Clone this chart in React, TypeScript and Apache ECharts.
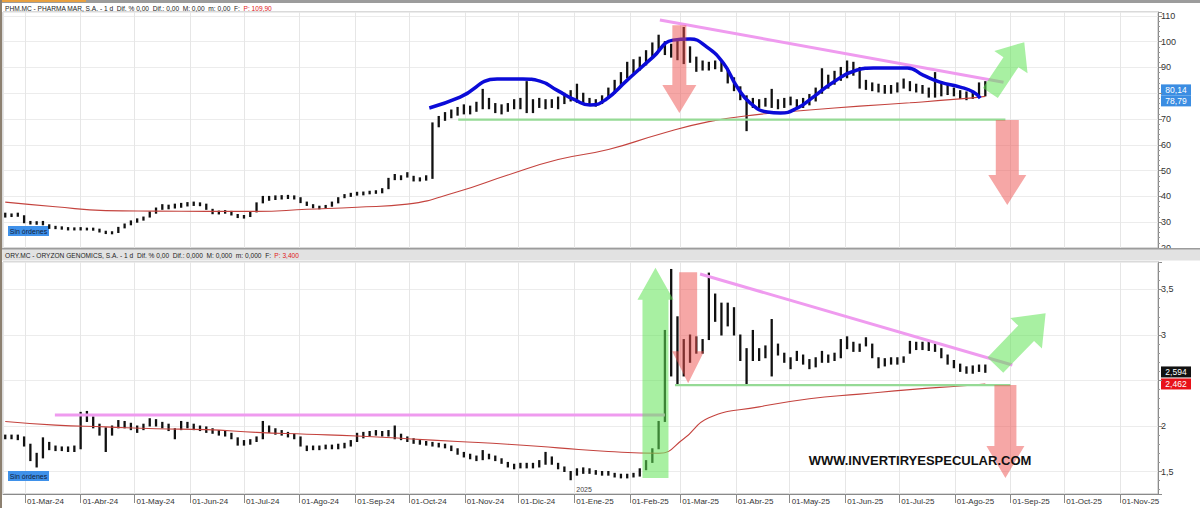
import React, { useEffect, useRef } from "react";
import * as echarts from "echarts";

const DAY = 86400000;
const BAR_START = Date.UTC(2024, 1, 19);
const BAR_STEP_DAYS = 3.5;
const X_MIN = Date.UTC(2024, 1, 17, 18);
const X_MAX = Date.UTC(2025, 10, 22, 5);
const MONTHS_ES = ["Ene", "Feb", "Mar", "Abr", "May", "Jun", "Jul", "Ago", "Sep", "Oct", "Nov", "Dic"];

// PHARMA MAR half-weekly ranges
const phmLow = [
  32.0, 32.2, 32.3, 29.8, 29.3, 29.2, 29.0, 27.6, 27.5, 27.3,
  27.0, 27.0, 27.0, 27.0, 26.9, 26.2, 25.6, 25.5, 26.0, 27.8,
  29.0, 30.0, 30.8, 32.0, 33.5, 35.0, 35.2, 35.5, 35.8, 36.3,
  36.5, 36.4, 35.0, 33.3, 33.2, 33.5, 32.8, 31.8, 31.6, 32.2,
  34.0, 37.5, 38.5, 38.8, 39.0, 39.2, 39.0, 37.6, 36.5, 35.6,
  35.2, 35.5, 36.2, 37.5, 39.5, 40.0, 40.5, 40.6, 41.0, 41.2,
  41.4, 43.0, 46.5, 46.5, 47.5, 46.0, 46.0, 46.3, 47.0, 67.0,
  69.5, 70.5, 71.5, 72.0, 72.0, 73.0, 74.0, 74.0, 72.5, 72.0,
  73.0, 74.0, 74.0, 72.5, 72.5, 74.5, 74.0, 74.5, 74.0, 76.0,
  77.0, 76.5, 76.0, 75.5, 75.0, 76.0, 78.0, 80.0, 83.0, 86.0,
  88.0, 89.0, 91.0, 94.0, 97.0, 95.0, 94.0, 93.0, 91.5, 92.0,
  88.5, 89.0, 89.0, 89.5, 88.5, 84.0, 81.0, 77.5, 65.5, 74.5,
  74.5, 75.0, 74.5, 74.0, 74.5, 75.5, 74.0, 74.5, 75.5, 77.0,
  80.0, 82.0, 83.5, 85.0, 86.0, 87.0, 82.0, 81.5, 81.0, 80.5,
  80.0, 80.0, 80.5, 82.0, 81.0, 80.5, 80.0, 78.5, 78.5, 79.0,
  79.5, 79.0, 78.0, 77.5, 78.0, 78.5, 79.0,
];
const phmHigh = [
  33.5, 33.2, 33.5, 32.5, 30.3, 30.2, 30.3, 29.0, 28.4, 28.2,
  27.9, 27.8, 27.9, 27.7, 27.7, 27.3, 26.5, 26.3, 28.0, 29.3,
  30.5, 31.3, 32.0, 34.0, 35.5, 36.8, 36.6, 37.0, 37.3, 37.6,
  37.8, 37.5, 37.0, 35.0, 34.3, 34.5, 34.2, 33.0, 32.6, 33.8,
  37.5, 40.0, 40.0, 40.2, 40.3, 40.4, 40.2, 39.5, 37.8, 36.8,
  36.2, 36.5, 37.8, 39.5, 40.7, 41.2, 41.6, 41.7, 42.0, 42.2,
  43.0, 47.0, 48.5, 48.0, 49.2, 47.8, 47.2, 48.0, 68.5, 71.0,
  72.5, 73.5, 74.5, 75.5, 75.0, 76.5, 81.5, 78.0, 76.0, 75.5,
  76.0, 77.5, 78.0, 84.5, 77.5, 78.0, 77.5, 77.5, 78.5, 80.0,
  81.0, 83.5, 80.0, 78.0, 77.5, 79.0, 82.0, 85.0, 88.0, 92.0,
  93.0, 94.0, 96.5, 99.5, 102.5, 100.0, 99.0, 100.5, 105.5, 98.0,
  94.0, 92.5, 92.0, 92.5, 92.0, 89.0, 86.0, 82.5, 79.0, 78.0,
  77.5, 78.0, 81.5, 77.5, 78.0, 78.5, 77.5, 78.0, 79.5, 82.0,
  89.5, 87.0, 88.5, 90.0, 92.5, 92.0, 90.0, 85.0, 84.0, 83.5,
  83.0, 83.0, 84.0, 85.5, 84.5, 83.5, 83.0, 82.0, 88.0, 84.5,
  83.0, 82.0, 81.0, 80.5, 80.5, 84.0, 84.5,
];
const phmMaIdx = [0, 8, 16, 24, 32, 40, 48, 56, 64, 72, 80, 88, 96, 104, 112, 120, 128, 136, 144, 152, 156];
const phmMa = [37.8, 36.0, 34.5, 34.3, 34.2, 34.2, 35.0, 35.8, 37.0, 41.8, 48.3, 54.3, 58.2, 64.0, 69.0, 71.8, 73.5, 75.0, 76.3, 77.8, 78.8];
const phmBlueIdx = [67.5, 72.4, 78.3, 82.4, 85.1, 87.8, 90.7, 93.1, 95.5, 99.0, 103.1, 106.3, 109.0, 111.7, 114.3, 116.5, 118.6, 121.3, 123.4, 126.1, 128.6, 131.8, 135.6, 138.2, 143.6, 146.1, 148.8, 152.0, 154.1, 155.2];
const phmBlue = [74.3, 78.5, 85.5, 85.5, 84.7, 81.2, 77.4, 75.4, 77.4, 85.1, 94.0, 100.6, 101.0, 97.9, 91.7, 82.4, 76.2, 72.7, 72.3, 74.3, 78.5, 84.3, 89.0, 89.8, 89.8, 87.0, 84.3, 82.4, 80.5, 78.1];
const phmPinkIdx = [104.2, 158.9];
const phmPink = [108.4, 84.3];
const phmSupportIdx = [72.1, 159.2];
const phmSupport = [69.8, 69.8];
const phmLast = 80.14;
const phmMaLast = 78.79;

// ORYZON half-weekly ranges
const oryLow = [
  1.86, 1.86, 1.85, 1.78, 1.62, 1.55, 1.65, 1.74, 1.73, 1.73,
  1.72, 1.72, 1.75, 2.05, 1.98, 1.90, 1.72, 1.90, 1.98, 1.98,
  1.96, 1.93, 1.96, 2.00, 2.00, 1.98, 1.95, 1.86, 1.96, 1.98,
  1.96, 1.95, 1.93, 1.92, 1.90, 1.89, 1.86, 1.79, 1.79, 1.80,
  1.83, 1.86, 1.93, 1.91, 1.90, 1.88, 1.86, 1.78, 1.73, 1.74,
  1.74, 1.75, 1.75, 1.75, 1.76, 1.78, 1.83, 1.87, 1.89, 1.90,
  1.89, 1.89, 1.86, 1.85, 1.83, 1.81, 1.80, 1.79, 1.78, 1.77,
  1.76, 1.73, 1.69, 1.66, 1.64, 1.62, 1.63, 1.64, 1.62, 1.59,
  1.55, 1.53, 1.54, 1.54, 1.54, 1.55, 1.58, 1.58, 1.53, 1.50,
  1.41, 1.46, 1.48, 1.48, 1.47, 1.46, 1.46, 1.44, 1.43, 1.43,
  1.44, 1.45, 1.52, 1.60, 1.75, 2.05, 2.55, 2.45, 2.55, 2.70,
  2.80, 2.80, 2.95, 3.15, 3.00, 3.10, 3.00, 2.72, 2.45, 2.72,
  2.72, 2.75, 2.55, 2.78, 2.70, 2.63, 2.72, 2.68, 2.63, 2.65,
  2.70, 2.70, 2.72, 2.75, 2.85, 2.82, 2.82, 2.88, 2.75, 2.64,
  2.66, 2.68, 2.68, 2.70, 2.80, 2.84, 2.84, 2.83, 2.82, 2.75,
  2.68, 2.64, 2.60, 2.58, 2.58, 2.60, 2.59,
];
const oryHigh = [
  1.90, 1.90, 1.90, 1.88, 1.80, 1.70, 1.87, 1.82, 1.78, 1.77,
  1.77, 1.78, 2.15, 2.16, 2.10, 2.02, 1.98, 2.00, 2.06, 2.05,
  2.03, 2.00, 2.02, 2.08, 2.07, 2.04, 2.02, 1.97, 2.05, 2.04,
  2.02, 2.00, 1.99, 1.97, 1.95, 1.94, 1.92, 1.87, 1.84, 1.85,
  1.88, 2.05, 2.00, 1.97, 1.95, 1.93, 1.91, 1.88, 1.78, 1.78,
  1.78, 1.79, 1.79, 1.80, 1.81, 1.84, 1.92, 1.93, 1.94, 1.95,
  1.94, 1.95, 2.00, 1.91, 1.88, 1.86, 1.84, 1.83, 1.82, 1.81,
  1.80, 1.78, 1.75, 1.71, 1.69, 1.67, 1.73, 1.69, 1.67, 1.64,
  1.60, 1.58, 1.59, 1.59, 1.59, 1.62, 1.71, 1.66, 1.59, 1.55,
  1.50, 1.53, 1.54, 1.53, 1.51, 1.50, 1.50, 1.48, 1.47, 1.47,
  1.48, 1.53, 1.62, 1.75, 2.05, 3.05, 3.72, 3.20, 2.95, 3.00,
  2.98, 2.95, 3.68, 3.45, 3.35, 3.35, 3.30, 3.00, 2.85, 3.05,
  2.85, 2.88, 3.17, 2.90, 2.80, 2.75, 2.82, 2.78, 2.73, 2.75,
  2.82, 2.78, 2.80, 2.95, 2.98, 2.92, 2.90, 2.97, 2.90, 2.75,
  2.74, 2.75, 2.75, 2.76, 2.93, 2.92, 2.92, 2.93, 2.90, 2.85,
  2.78, 2.72, 2.68, 2.65, 2.66, 2.67, 2.67,
];
const oryMaIdx = [0, 8, 16, 24, 32, 40, 48, 56, 64, 72, 80, 88, 96, 104, 108, 112, 120, 128, 136, 144, 152, 156];
const oryMa = [2.05, 2.01, 1.99, 1.97, 1.96, 1.93, 1.91, 1.89, 1.86, 1.83, 1.80, 1.76, 1.72, 1.70, 1.86, 2.09, 2.21, 2.30, 2.35, 2.40, 2.44, 2.46];
const oryPinkFlatIdx = [7.9, 105.0];
const oryPinkFlat = [2.12, 2.12];
const oryPinkIdx = [110.6, 160.3];
const oryPink = [3.67, 2.67];
const orySupportIdx = [106.6, 160.0];
const orySupport = [2.45, 2.45];
const oryLast = 2.594;
const oryMaLast = 2.462;

const RED_ARROW = "rgba(238, 80, 78, 0.5)";
const GREEN_ARROW = "rgba(96, 228, 86, 0.55)";

const phmArrows = [
  { from: [107.3, 106.4], to: [107.3, 72.3], shaft: 14, head: 34, headLen: 28, color: RED_ARROW },
  { from: [159.5, 69.6], to: [159.5, 36.7], shaft: 23, head: 38, headLen: 30, color: RED_ARROW },
  { from: [156.8, 80.1], to: [162.2, 99.8], shaft: 18, head: 40, headLen: 24, color: GREEN_ARROW },
];
const oryArrows = [
  { from: [103.5, 1.43], to: [103.5, 3.74], shaft: 26, head: 36, headLen: 32, color: GREEN_ARROW },
  { from: [108.7, 3.69], to: [108.7, 2.47], shaft: 18, head: 32, headLen: 32, color: RED_ARROW },
  { from: [157.6, 2.67], to: [165.6, 3.24], shaft: 22, head: 44, headLen: 28, color: GREEN_ARROW },
  { from: [159.2, 2.45], to: [159.2, 1.43], shaft: 22, head: 38, headLen: 32, color: RED_ARROW },
];

const FONT = "Liberation Sans, Arial, sans-serif";
const barTime = (i: number) => BAR_START + i * BAR_STEP_DAYS * DAY;
const pairs = (idx: number[], vals: number[]) => idx.map((k, j) => [barTime(k), vals[j]]);
const comma = (v: number) => String(v).replace(".", ",");

function rangeRender(_params: any, api: any) {
  const lo = api.coord([api.value(0), api.value(1)]);
  const hi = api.coord([api.value(0), api.value(2)]);
  return {
    type: "line",
    shape: { x1: lo[0], y1: lo[1] + 0.5, x2: hi[0], y2: hi[1] - 0.5 },
    style: { stroke: "#111", lineWidth: 2.3 },
  };
}

function arrowPoints(p0: number[], p1: number[], shaft: number, head: number, headLen: number) {
  const dx = p1[0] - p0[0];
  const dy = p1[1] - p0[1];
  const len = Math.hypot(dx, dy) || 1;
  const ux = dx / len, uy = dy / len;
  const nx = -uy, ny = ux;
  const bx = p1[0] - ux * headLen, by = p1[1] - uy * headLen;
  const s = shaft / 2, h = head / 2;
  return [
    [p0[0] + nx * s, p0[1] + ny * s],
    [bx + nx * s, by + ny * s],
    [bx + nx * h, by + ny * h],
    [p1[0], p1[1]],
    [bx - nx * h, by - ny * h],
    [bx - nx * s, by - ny * s],
    [p0[0] - nx * s, p0[1] - ny * s],
  ];
}

const monthLabel = (v: number) => {
  const d = new Date(v);
  const dd = String(d.getUTCDate()).padStart(2, "0");
  return `${dd}-${MONTHS_ES[d.getUTCMonth()]}-${String(d.getUTCFullYear()).slice(2)}`;
};

const lineSeries = (name: string, gi: number, data: number[][], color: string, width: number, smooth = false, z = 3) => ({
  name,
  type: "line",
  xAxisIndex: gi,
  yAxisIndex: gi,
  data,
  showSymbol: false,
  smooth,
  z,
  lineStyle: { color, width },
  silent: true,
});

export default function App() {
  const ref = useRef<HTMLDivElement>(null);
  useEffect(() => {
    if (!ref.current) return;
    const chart = echarts.init(ref.current, null, { renderer: "svg" });
    const xBase = {
      type: "time",
      min: X_MIN,
      max: X_MAX,
      splitNumber: 21,
      minInterval: 27 * DAY,
      maxInterval: 32 * DAY,
      splitLine: { show: true, lineStyle: { color: "#e6e6e6", width: 1 } },
    };
    const yBase = {
      type: "value",
      position: "right",
      scale: true,
      axisLine: { show: true, lineStyle: { color: "#8a8a8a" } },
      axisTick: { show: true, length: 4, lineStyle: { color: "#8a8a8a" } },
      minorTick: { show: true, splitNumber: 5, length: 2, lineStyle: { color: "#9a9a9a" } },
      splitLine: { show: true, lineStyle: { color: "#ececec" } },
    };
    const option: any = {
      animation: false,
      useUTC: true,
      backgroundColor: "#ffffff",
      textStyle: { fontFamily: FONT },
      grid: [
        { left: 3, right: 42, top: 12, height: 236, show: true, borderColor: "#b4b4b4", borderWidth: 1 },
        { left: 3, right: 42, top: 262, bottom: 14, show: true, borderColor: "#b4b4b4", borderWidth: 1 },
      ],
      xAxis: [
        { ...xBase, gridIndex: 0, axisLabel: { show: false }, axisTick: { show: false }, axisLine: { show: false } },
        {
          ...xBase,
          gridIndex: 1,
          axisLine: { show: true, lineStyle: { color: "#8a8a8a" } },
          axisTick: { show: true, length: 9, lineStyle: { color: "#8a8a8a" } },
          axisLabel: {
            show: true,
            fontSize: 8,
            color: "#333",
            align: "left",
            margin: 3,
            padding: [0, 0, 0, 2],
            hideOverlap: false,
            formatter: (v: number) => monthLabel(v),
          },
        },
      ],
      yAxis: [
        {
          ...yBase,
          gridIndex: 0,
          min: 20,
          max: 111.5,
          interval: 10,
          axisLabel: {
            fontSize: 9,
            color: "#333",
            margin: 3,
            // 80 is hidden behind the last-price badges
            formatter: (v: number) =>
              Math.abs(v / 10 - Math.round(v / 10)) < 1e-6 && Math.round(v) !== 80 ? String(v) : "",
          },
        },
        {
          ...yBase,
          gridIndex: 1,
          min: 1.253,
          max: 3.802,
          splitNumber: 5,
          axisLabel: {
            fontSize: 9,
            color: "#333",
            margin: 3,
            // 2,5 is hidden behind the last-price badges
            formatter: (v: number) =>
              Math.abs(v * 2 - Math.round(v * 2)) < 1e-6 && Math.abs(v - 2.5) > 1e-6 ? comma(v) : "",
          },
        },
      ],
      series: [
        {
          type: "custom",
          xAxisIndex: 0,
          yAxisIndex: 0,
          renderItem: rangeRender,
          encode: { x: 0, y: [1, 2] },
          data: phmLow.map((l, i) => [barTime(i), l, phmHigh[i]]),
          z: 2,
          silent: true,
        },
        lineSeries("phmMa", 0, pairs(phmMaIdx, phmMa), "#c4433e", 1.1, true, 3),
        lineSeries("phmSupport", 0, pairs(phmSupportIdx, phmSupport), "#95da95", 2.2, false, 4),
        lineSeries("phmPink", 0, pairs(phmPinkIdx, phmPink), "#ef9bef", 3, false, 4),
        lineSeries("phmBlue", 0, pairs(phmBlueIdx, phmBlue), "#0b0bd8", 3.5, true, 5),
        {
          type: "custom",
          xAxisIndex: 1,
          yAxisIndex: 1,
          renderItem: rangeRender,
          encode: { x: 0, y: [1, 2] },
          data: oryLow.map((l, i) => [barTime(i), l, oryHigh[i]]),
          z: 2,
          silent: true,
        },
        lineSeries("oryMa", 1, pairs(oryMaIdx, oryMa), "#c4433e", 1.1, true, 3),
        lineSeries("oryPinkFlat", 1, pairs(oryPinkFlatIdx, oryPinkFlat), "#ef9bef", 3, false, 4),
        lineSeries("oryPink", 1, pairs(oryPinkIdx, oryPink), "#ef9bef", 3, false, 4),
        lineSeries("orySupport", 1, pairs(orySupportIdx, orySupport), "#95da95", 2.2, false, 4),
      ],
    };
    chart.setOption(option);

    const px = (gi: number, idx: number, v: number) =>
      chart.convertToPixel({ gridIndex: gi } as any, [barTime(idx), v]) as number[];
    const py = (gi: number, v: number) => chart.convertToPixel({ yAxisIndex: gi } as any, v) as number;

    const graphics: any[] = [];
    const addArrows = (gi: number, arrows: any[]) => {
      arrows.forEach((a) => {
        const p0 = px(gi, a.from[0], a.from[1]);
        const p1 = px(gi, a.to[0], a.to[1]);
        graphics.push({
          type: "polygon",
          shape: { points: arrowPoints(p0, p1, a.shaft, a.head, a.headLen) },
          style: { fill: a.color },
          z: 50,
          silent: true,
        });
      });
    };
    addArrows(0, phmArrows);
    addArrows(1, oryArrows);

    const badge = (y: number, text: string, bg: string) => {
      graphics.push({
        type: "group",
        z: 60,
        children: [
          { type: "rect", shape: { x: 1161, y: y - 5.5, width: 30, height: 11 }, style: { fill: bg } },
          {
            type: "text",
            style: { text, x: 1176, y, fill: "#fff", fontSize: 8.5, fontFamily: FONT, align: "center", verticalAlign: "middle" },
          },
        ],
      });
    };
    const yPhm = py(0, phmLast);
    badge(yPhm - 3, comma(phmLast), "#3b8de2");
    badge(yPhm + 8, comma(phmMaLast), "#3b8de2");
    const yOry = py(1, oryLast);
    badge(yOry, comma(oryLast), "#111");
    badge(Math.max(py(1, oryMaLast), yOry + 11.5), comma(oryMaLast), "#e8121a");

    // frame & headers
    graphics.push(
      { type: "rect", shape: { x: 0, y: 0, width: 1200, height: 3 }, style: { fill: "#9c9c9c" }, z: 70 },
      { type: "rect", shape: { x: 0, y: 0, width: 86, height: 2 }, style: { fill: "#e8a040" }, z: 71 },
      { type: "rect", shape: { x: 0, y: 0, width: 2, height: 508 }, style: { fill: "#8c8070" }, z: 71 },
      { type: "rect", shape: { x: 2, y: 248.5, width: 1198, height: 12 }, style: { fill: "#e2e2e2" }, z: 70 },
      { type: "rect", shape: { x: 2, y: 248, width: 1198, height: 1.5 }, style: { fill: "#9c9c9c" }, z: 71 },
    );
    const header = (y: number, main: string, price: string) => {
      graphics.push({
        type: "text",
        z: 72,
        style: {
          x: 5,
          y,
          text: `{a|${main}} {b|${price}}`,
          verticalAlign: "middle",
          rich: {
            a: { fontSize: 6.6, fill: "#222", fontFamily: FONT },
            b: { fontSize: 6.6, fill: "#e02020", fontFamily: FONT },
          },
        },
      });
    };
    header(8, "PHM.MC - PHARMA MAR, S.A. - 1 d  Dif. % 0,00  Dif.: 0,00  M: 0,00  m: 0,00  F:", "P: 109,90");
    header(255, "ORY.MC - ORYZON GENOMICS, S.A. - 1 d  Dif. % 0,00  Dif.: 0,000  M: 0,000  m: 0,000  F:", "P: 3,400");

    const sinOrdenes = (y: number) => {
      graphics.push({
        type: "group",
        z: 60,
        children: [
          { type: "rect", shape: { x: 8, y, width: 41, height: 10 }, style: { fill: "#3f91ea" } },
          {
            type: "text",
            style: { text: "Sin órdenes", x: 28.5, y: y + 5, fill: "#10203a", fontSize: 7, fontFamily: FONT, align: "center", verticalAlign: "middle" },
          },
        ],
      });
    };
    sinOrdenes(226);
    sinOrdenes(471);

    const x2025 = chart.convertToPixel({ xAxisIndex: 1 } as any, Date.UTC(2025, 0, 1)) as number;
    graphics.push({
      type: "text",
      z: 60,
      style: { text: "2025", x: x2025 + 2, y: 489, fill: "#444", fontSize: 7, fontFamily: FONT, verticalAlign: "middle" },
    });
    graphics.push({
      type: "text",
      z: 60,
      style: {
        text: "WWW.INVERTIRYESPECULAR.COM",
        x: 920,
        y: 460,
        fill: "#111",
        fontSize: 13,
        fontWeight: "bold",
        fontFamily: FONT,
        align: "center",
        verticalAlign: "middle",
      },
    });

    chart.setOption({ graphic: graphics });
    return () => chart.dispose();
  }, []);

  return <div ref={ref} style={{ position: "fixed", left: 0, top: 0, width: 1200, height: 508 }} />;
}
